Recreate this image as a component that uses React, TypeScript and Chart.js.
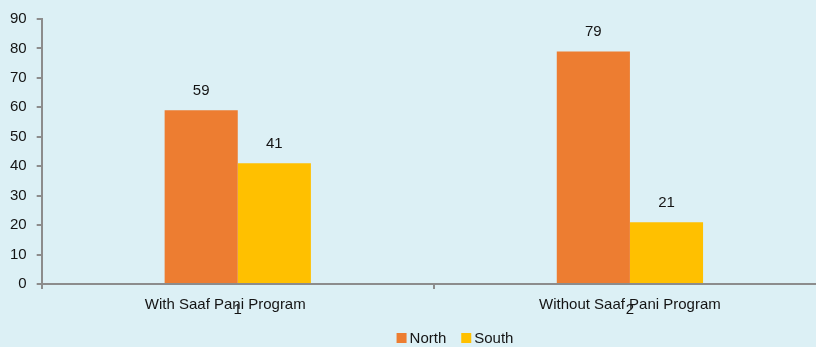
import React, { useEffect, useRef } from "react";
import { Chart, registerables } from "chart.js";

Chart.register(...registerables);

const categories: string[][] = [
  ["With Saaf Pani Program      ", "1"],
  ["Without Saaf Pani Program", "2"],
];
const seriesNames = ["North", "South"];
const seriesColors = ["#ed7d31", "#ffc000"];
const northValues = [59, 79];
const southValues = [41, 21];
const yMin = 0;
const yMax = 90;
const yStep = 10;

const FONT = "'Liberation Sans', Arial, sans-serif";
const TEXT = "#141414";
const AXIS = "#8c8c8c";
const BG = "#dcf0f5";

// layout of the legend (style, not data)
const LEGEND_CENTER_X = 455;
const LEGEND_CENTER_Y = 338;
const LEGEND_BOX = 10;
const LEGEND_GAP = 3;
const LEGEND_SPACING = 15;

const valueLabels = {
  id: "valueLabels",
  afterDatasetsDraw(chart: any) {
    const ctx = chart.ctx;
    ctx.save();
    ctx.font = `15px ${FONT}`;
    ctx.fillStyle = TEXT;
    ctx.textAlign = "center";
    ctx.textBaseline = "alphabetic";
    chart.data.datasets.forEach((ds: any, i: number) => {
      const meta = chart.getDatasetMeta(i);
      meta.data.forEach((el: any, j: number) => {
        ctx.fillText(String(ds.data[j]), el.x, el.y - 15);
      });
    });
    ctx.restore();
  },
};

const bottomLegend = {
  id: "bottomLegend",
  afterDraw(chart: any) {
    const ctx = chart.ctx;
    ctx.save();
    ctx.font = `15px ${FONT}`;
    const items = chart.data.datasets.map((ds: any) => ({
      label: String(ds.label),
      color: ds.backgroundColor as string,
      w: LEGEND_BOX + LEGEND_GAP + ctx.measureText(String(ds.label)).width,
    }));
    const total =
      items.reduce((s: number, it: any) => s + it.w, 0) +
      LEGEND_SPACING * (items.length - 1);
    let x = LEGEND_CENTER_X - total / 2;
    ctx.textBaseline = "middle";
    ctx.textAlign = "left";
    items.forEach((it: any) => {
      ctx.fillStyle = it.color;
      ctx.fillRect(x, LEGEND_CENTER_Y - LEGEND_BOX / 2, LEGEND_BOX, LEGEND_BOX);
      ctx.fillStyle = TEXT;
      ctx.fillText(it.label, x + LEGEND_BOX + LEGEND_GAP, LEGEND_CENTER_Y + 1);
      x += it.w + LEGEND_SPACING;
    });
    ctx.restore();
  },
};

export default function App() {
  const ref = useRef<HTMLCanvasElement | null>(null);
  useEffect(() => {
    if (!ref.current) return;
    const chart = new Chart(ref.current, {
      type: "bar",
      data: {
        labels: categories,
        datasets: [
          {
            label: seriesNames[0],
            data: northValues,
            backgroundColor: seriesColors[0],
            categoryPercentage: 0.373,
            barPercentage: 1,
          },
          {
            label: seriesNames[1],
            data: southValues,
            backgroundColor: seriesColors[1],
            categoryPercentage: 0.373,
            barPercentage: 1,
          },
        ],
      },
      options: {
        responsive: false,
        maintainAspectRatio: false,
        animation: false,
        layout: { padding: { left: 0, top: 19, right: 0, bottom: 21 } },
        plugins: {
          tooltip: { enabled: false },
          legend: { display: false },
        },
        scales: {
          x: {
            grid: {
              display: true,
              drawOnChartArea: false,
              drawTicks: true,
              tickLength: 5,
              color: AXIS,
              lineWidth: 2,
              offset: true,
            },
            border: { display: true, color: AXIS, width: 2 },
            ticks: {
              color: TEXT,
              padding: 14,
              maxRotation: 0,
              autoSkip: false,
              font: { family: FONT, size: 15, lineHeight: 0.3 },
            },
          },
          y: {
            min: yMin,
            max: yMax,
            grid: {
              display: true,
              drawOnChartArea: false,
              drawTicks: true,
              tickLength: 5,
              color: AXIS,
              lineWidth: 2,
            },
            border: { display: true, color: AXIS, width: 2 },
            ticks: {
              stepSize: yStep,
              color: TEXT,
              padding: 10,
              font: { family: FONT, size: 15 },
            },
          },
        },
      },
      plugins: [valueLabels, bottomLegend],
    });
    return () => chart.destroy();
  }, []);

  return (
    <div
      style={{
        position: "fixed",
        left: 0,
        top: 0,
        width: 816,
        height: 347,
        overflow: "hidden",
        background: BG,
      }}
    >
      <canvas ref={ref} width={826} height={347} style={{ display: "block" }} />
    </div>
  );
}
